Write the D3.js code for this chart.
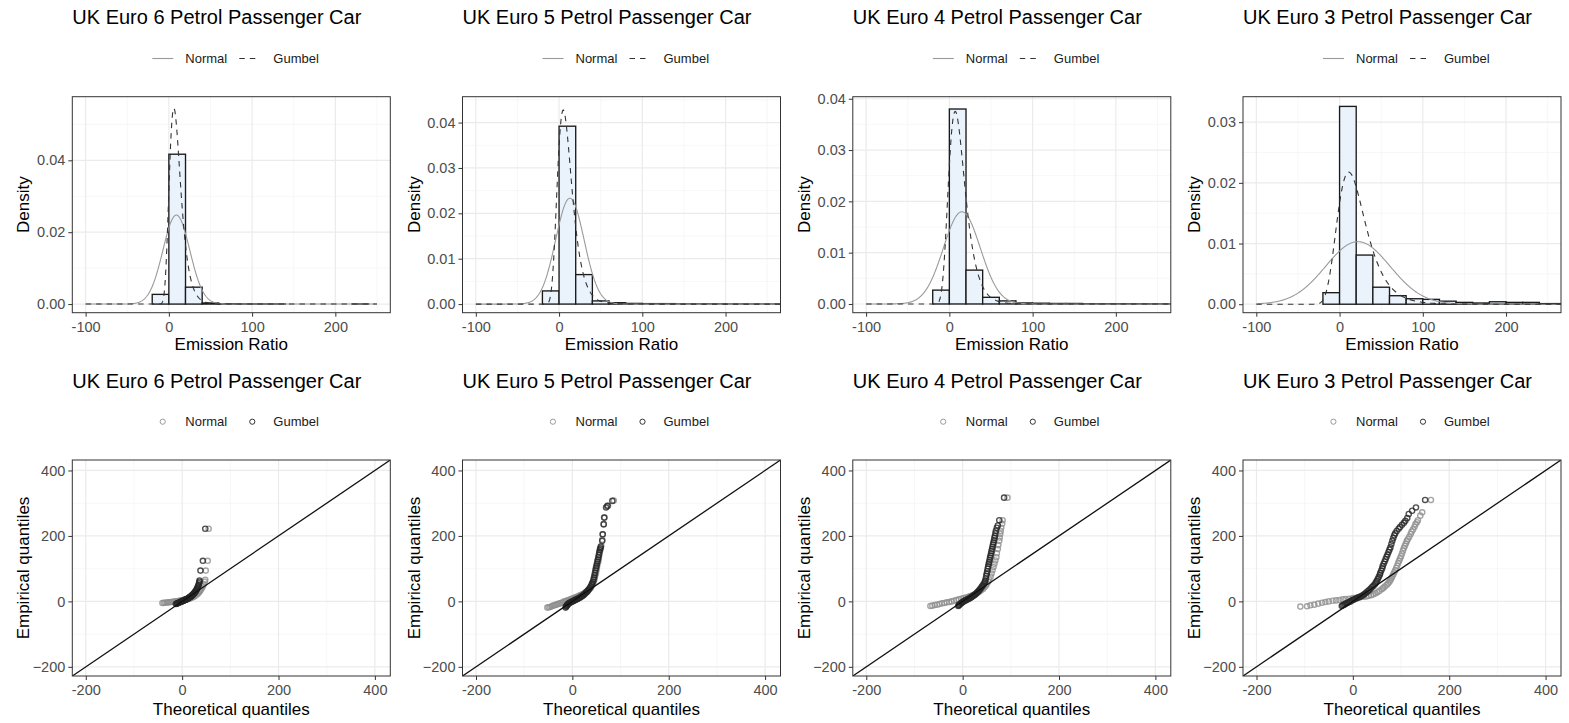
<!DOCTYPE html>
<html>
<head>
<meta charset="utf-8">
<script src="https://cdn.jsdelivr.net/npm/d3@7"></script>
<style>
  body { margin: 0; background: #fff; }
  svg { display: block; }
  text { font-family: "Liberation Sans", Arial, sans-serif; }
</style>
</head>
<body>
<svg id="chart" width="1569" height="723"></svg>
<script>
// ---- data -------------------------------------------------------------
const titles = [
  "UK Euro 6 Petrol Passenger Car",
  "UK Euro 5 Petrol Passenger Car",
  "UK Euro 4 Petrol Passenger Car",
  "UK Euro 3 Petrol Passenger Car"
];
const seriesNames = ["Normal", "Gumbel"];

// histogram bins (width 20) and densities
const binWidth = 20;
const binStarts = [-20, 0, 20, 40, 60, 80, 100, 120, 140, 160, 180, 200, 220, 240, 260, 280, 300];
const densEuro6 = [0.0027, 0.0417, 0.0047, 0.0003, 0.0001, 0.00005, 0.00005, 0.00005, 0, 0, 0, 0, 0.00005];
const densEuro5 = [0.0029, 0.0392, 0.0065, 0.0007, 0.0003, 0.00015, 0.0001, 0.0001, 0.00005, 0.00005, 0.00005, 0.00003, 0.00002, 0.00002, 0.00002, 0.00004, 0.00002];
const densEuro4 = [0.0027, 0.0380, 0.0066, 0.0013, 0.0006, 0.0002, 0.00015, 0.0001, 0.0001, 0.00005, 0.00005, 0.00005, 0.00004, 0.00003, 0.00002, 0, 0.00003];
const densEuro3 = [0.0019, 0.0326, 0.0081, 0.0028, 0.0014, 0.0009, 0.0008, 0.0005, 0.0003, 0.0002, 0.0004, 0.0003, 0.0003, 0.0001, 0.0001];

// fitted distribution parameters
const normalMean  = [9, 13, 15, 22];
const normalSd    = [16.1, 17.1, 22.2, 38.7];
const gumbelLoc   = [6, 5, 7, 11];
const gumbelScale = [6.75, 8.6, 9.8, 16.9];
const curveStart  = [-100, -100, -100, -100];
const curveEnd    = [250, 300, 300, 300];

// density axis ticks
const densTicks = [
  [0, 0.02, 0.04],
  [0, 0.01, 0.02, 0.03, 0.04],
  [0, 0.01, 0.02, 0.03, 0.04],
  [0, 0.01, 0.02, 0.03]
];
const densMinor = [
  [0.01, 0.03, 0.05],
  [0.005, 0.015, 0.025, 0.035, 0.045],
  [0.005, 0.015, 0.025, 0.035],
  [0.005, 0.015, 0.025]
];
const densDomain = [[-0.0024, 0.0577], [-0.0019, 0.0457], [-0.0017, 0.0404], [-0.0014, 0.0342]];
const ratioDomain = [-116, 266];
const ratioTicks = [-100, 0, 100, 200];
const ratioMinor = [-50, 50, 150, 250];

// Q-Q points: [theoretical, empirical]
const qqNormalEuro6 = [[-41,-5],[-38,-4.5],[-35,-4],[-32,-3.5],[-29,-3],[-26,-2.5],[-23,-2],[-20,-1.5],[-17,-1],[-14,0],[-11,0.5],[-8,1],[-5,2],[-2,3],[1,3.5],[4,4.5],[7,5.5],[10,6],[13,7.5],[16,9],[19,11],[22,13],[25,15],[28,18],[31,22],[33,25],[35,28],[37,32],[39,36],[41,41],[43,46],[45,52],[47,60],[48,66],[49,94],[53,124],[55,222]];
const qqGumbelEuro6 = [[-13,-8],[-11,-7],[-10,-6],[-8,-5],[-7,-4],[-5,-3],[-4,-2],[-2,-1],[-1,0],[0,0.5],[1,1],[2,2],[3,2.5],[4,3],[5,4],[6,4.5],[7,5],[8,6],[9,7],[10,7.5],[11,8],[12,9],[13,10],[14,11],[15,12],[16,13],[17,14],[18,15],[19,16],[20,18],[21,19],[22,20],[23,22],[24,24],[25,25],[26,27],[27,29],[28,31],[29,33],[30,36],[31,39],[32,42],[33,46],[34,50],[35,55],[36,60],[36,64],[38,94],[43,124],[48,222]];

const qqNormalEuro5 = [[-52,-19],[-49,-18],[-46,-17],[-43,-15],[-40,-13],[-37,-12],[-34,-10],[-31,-9],[-28,-7],[-25,-6],[-22,-4],[-19,-2],[-16,0],[-13,1],[-10,3],[-7,4],[-4,6],[-1,8],[2,10],[5,11],[8,13],[11,15],[14,17],[17,19],[20,21],[23,23],[26,26],[29,29],[32,33],[35,37],[38,42],[40,47],[42,53],[44,60],[46,68],[47,76],[49,85],[50,94],[51,103],[52,112],[54,122],[55,132],[56,142],[57,151],[59,160],[60,170],[62,188],[63,205],[65,235],[67,256],[72,290],[74,292],[86,308]];
const qqGumbelEuro5 = [[-14,-19],[-13,-16],[-12,-14],[-11,-12],[-10,-10],[-9,-8],[-7,-6],[-6,-5],[-4,-3],[-2,-2],[0,0],[2,1],[4,3],[6,4],[8,6],[10,7],[12,9],[14,10],[16,12],[18,14],[20,16],[22,18],[24,20],[26,23],[28,26],[30,29],[32,32],[34,36],[36,40],[38,45],[40,50],[41,55],[43,60],[44,67],[45,73],[46,80],[47,87],[48,95],[49,102],[50,108],[51,115],[52,122],[53,128],[54,135],[55,142],[56,150],[57,157],[58,162],[59,167],[62,185],[63,205],[65,236],[66,256],[70,287],[73,292],[83,307]];

const qqNormalEuro4 = [[-67,-14],[-63,-13],[-58,-11],[-53,-10],[-48,-8],[-43,-6],[-38,-5],[-33,-3],[-28,-2],[-23,0],[-18,2],[-13,4],[-8,6],[-3,8],[2,10],[7,12],[12,14],[16,16],[20,18],[24,21],[28,24],[32,27],[35,30],[38,34],[42,38],[45,43],[48,48],[50,53],[53,60],[55,67],[58,75],[60,85],[62,95],[64,105],[66,115],[68,125],[70,135],[71,147],[73,160],[74,172],[76,185],[77,195],[78,206],[79,215],[80,225],[82,237],[83,248],[93,317]];
const qqGumbelEuro4 = [[-9,-14],[-8,-12],[-7,-10],[-5,-8],[-3,-6],[-2,-4],[0,-2],[2,0],[4,2],[6,3],[8,5],[10,6],[12,8],[14,9],[16,11],[18,13],[20,15],[22,17],[24,19],[26,21],[28,24],[30,27],[32,30],[34,33],[36,37],[38,41],[40,45],[42,49],[44,54],[46,59],[47,63],[48,70],[49,78],[50,85],[51,92],[52,100],[53,107],[54,114],[55,120],[56,127],[57,134],[58,140],[59,147],[60,154],[61,160],[62,167],[63,174],[64,180],[65,187],[66,194],[67,200],[68,208],[69,216],[71,225],[73,232],[76,248],[86,317]];

const qqNormalEuro3 = [[-109,-16],[-95,-15],[-88,-12],[-80,-10],[-72,-7],[-64,-4],[-57,-2],[-50,0],[-42,2],[-35,3],[-28,4],[-21,6],[-15,7],[-8,8],[0,10],[7,11],[15,13],[22,14],[28,15],[33,17],[38,19],[43,22],[47,25],[51,28],[55,32],[60,37],[63,41],[66,45],[70,50],[73,55],[76,60],[78,65],[80,71],[82,77],[84,83],[86,89],[88,95],[90,102],[92,109],[94,117],[96,124],[98,131],[100,138],[102,146],[104,155],[106,163],[108,170],[110,177],[112,184],[114,190],[117,197],[120,206],[122,213],[125,220],[128,228],[130,236],[133,242],[135,248],[140,262],[144,272],[162,310]];
const qqGumbelEuro3 = [[-23,-14],[-21,-12],[-18,-10],[-16,-8],[-13,-6],[-11,-4],[-8,-2],[-5,0],[-2,3],[1,5],[4,7],[7,9],[10,11],[13,13],[16,15],[19,17],[22,20],[25,23],[28,27],[31,31],[34,35],[37,39],[40,44],[43,48],[46,53],[48,58],[50,63],[52,69],[54,75],[56,81],[57,87],[59,94],[61,101],[62,108],[64,115],[66,122],[68,129],[70,136],[72,143],[74,151],[76,158],[78,165],[80,175],[82,185],[84,194],[86,202],[88,208],[91,215],[95,222],[98,227],[102,234],[106,240],[109,246],[113,255],[116,267],[123,277],[131,287],[150,310]];

const qqDomain = [-228, 432];
const qqTicks = [-200, 0, 200, 400];
const qqMinor = [-100, 100, 300];

const densities = [densEuro6, densEuro5, densEuro4, densEuro3];
const qqNormal = [qqNormalEuro6, qqNormalEuro5, qqNormalEuro4, qqNormalEuro3];
const qqGumbel = [qqGumbelEuro6, qqGumbelEuro5, qqGumbelEuro4, qqGumbelEuro3];

// ---- layout & style ---------------------------------------------------
const colLeft = [72.3, 462.5, 852.8, 1243];
const panelW = 318, panelH = 216;
const topRow = { panelTop: 96.7, titleY: 24, legendY: 58.5, tickY: 332, axisTitleY: 350.5 };
const botRow = { panelTop: 460, titleY: 387.5, legendY: 421.7, tickY: 695, axisTitleY: 714.5 };

const COL = {
  gridMajor: "#ebebeb", gridMinor: "#f4f4f4", border: "#333333",
  tickText: "#4d4d4d", fill: "#eaf3fc", barStroke: "#1a1a1a",
  normal: "#9a9a9a", gumbel: "#333333",
  normalPt: "#8e8e8e", gumbelPt: "#262626"
};
const PT = { r: 2.6, width: 1.4, opacity: 0.8 };

const svg = d3.select("#chart");
const defs = svg.append("defs");

function normalPdf(x, m, s) {
  const z = (x - m) / s;
  return Math.exp(-0.5 * z * z) / (s * Math.sqrt(2 * Math.PI));
}
function gumbelPdf(x, mu, beta) {
  const z = (x - mu) / beta;
  return Math.exp(-(z + Math.exp(-z))) / beta;
}

function frame(g, x, y, xMajor, xMinor, yMajor, yMinor, id) {
  g.append("rect").attr("width", panelW).attr("height", panelH).attr("fill", "#fff");
  const grid = g.append("g");
  grid.selectAll(".vmin").data(xMinor).join("line")
    .attr("x1", d => x(d)).attr("x2", d => x(d)).attr("y1", 0).attr("y2", panelH)
    .attr("stroke", COL.gridMinor).attr("stroke-width", 0.7);
  grid.selectAll(".hmin").data(yMinor).join("line")
    .attr("y1", d => y(d)).attr("y2", d => y(d)).attr("x1", 0).attr("x2", panelW)
    .attr("stroke", COL.gridMinor).attr("stroke-width", 0.7);
  grid.selectAll(".vmaj").data(xMajor).join("line")
    .attr("x1", d => x(d)).attr("x2", d => x(d)).attr("y1", 0).attr("y2", panelH)
    .attr("stroke", COL.gridMajor).attr("stroke-width", 1.2);
  grid.selectAll(".hmaj").data(yMajor).join("line")
    .attr("y1", d => y(d)).attr("y2", d => y(d)).attr("x1", 0).attr("x2", panelW)
    .attr("stroke", COL.gridMajor).attr("stroke-width", 1.2);
  defs.append("clipPath").attr("id", id).append("rect")
    .attr("width", panelW).attr("height", panelH);
  return g.append("g").attr("clip-path", `url(#${id})`);
}

function axes(g, x, y, xMajor, yMajor, yFmt, row, xTitle, yTitle) {
  const top = row.panelTop;
  const xa = d3.axisBottom(x).tickValues(xMajor).tickSize(4).tickPadding(3).tickFormat(d3.format("d"));
  const ya = d3.axisLeft(y).tickValues(yMajor).tickSize(4).tickPadding(3).tickFormat(yFmt);
  const gx = g.append("g").attr("transform", `translate(0,${panelH})`).call(xa);
  const gy = g.append("g").call(ya);
  [gx, gy].forEach(a => {
    a.select(".domain").remove();
    a.selectAll(".tick line").attr("stroke", COL.border).attr("stroke-width", 1);
    a.selectAll(".tick text").attr("fill", COL.tickText).attr("font-size", 14.5)
      .attr("font-family", '"Liberation Sans", Arial, sans-serif');
  });
  gx.selectAll(".tick text").attr("dy", null).attr("y", row.tickY - top - panelH);
  gx.selectAll(".tick text").text(d => d < 0 ? "-" + Math.abs(d) : d);
  g.append("rect").attr("width", panelW).attr("height", panelH)
    .attr("fill", "none").attr("stroke", COL.border).attr("stroke-width", 1);
  g.append("text").attr("x", panelW / 2).attr("y", row.axisTitleY - top)
    .attr("text-anchor", "middle").attr("font-size", 17).attr("fill", "#000").text(xTitle);
  g.append("text").attr("transform", `translate(-43,${panelH / 2}) rotate(-90)`)
    .attr("text-anchor", "middle").attr("font-size", 17).attr("fill", "#000").text(yTitle);
}

function titleAndLegend(i, row, kind) {
  const L = colLeft[i];
  svg.append("text").attr("x", L).attr("y", row.titleY)
    .attr("font-size", 20).attr("fill", "#000").text(titles[i]);
  const lg = svg.append("g").attr("transform", `translate(${L},${row.legendY})`);
  if (kind === "line") {
    lg.append("line").attr("x1", 80).attr("x2", 101).attr("y1", 0).attr("y2", 0)
      .attr("stroke", COL.normal).attr("stroke-width", 1.1);
    lg.append("line").attr("x1", 167).attr("x2", 188).attr("y1", 0).attr("y2", 0)
      .attr("stroke", COL.gumbel).attr("stroke-width", 1.1).attr("stroke-dasharray", "5.5,5");
  } else {
    lg.append("circle").attr("cx", 90.4).attr("cy", 0).attr("r", 2.6)
      .attr("fill", "none").attr("stroke", COL.normal).attr("stroke-width", 1);
    lg.append("circle").attr("cx", 180).attr("cy", 0).attr("r", 2.6)
      .attr("fill", "none").attr("stroke", COL.gumbel).attr("stroke-width", 1);
  }
  lg.selectAll("text.lab").data(seriesNames).join("text")
    .attr("x", (d, k) => k === 0 ? 113 : 201).attr("y", 4.6)
    .attr("font-size", 13).attr("fill", "#1a1a1a").text(d => d);
}

// ---- top row: histograms with fitted densities --------------------------
for (let i = 0; i < 4; i++) {
  const g = svg.append("g").attr("transform", `translate(${colLeft[i]},${topRow.panelTop})`);
  const x = d3.scaleLinear().domain(ratioDomain).range([0, panelW]);
  const y = d3.scaleLinear().domain(densDomain[i]).range([panelH, 0]);
  const inner = frame(g, x, y, ratioTicks, ratioMinor, densTicks[i], densMinor[i], "clipTop" + i);

  const bins = densities[i].map((d, k) => ({ x0: binStarts[k], x1: binStarts[k] + binWidth, d }));
  inner.selectAll("rect.bar").data(bins).join("rect")
    .attr("x", b => x(b.x0)).attr("width", b => x(b.x1) - x(b.x0))
    .attr("y", b => y(b.d)).attr("height", b => y(0) - y(b.d))
    .attr("fill", COL.fill).attr("stroke", COL.barStroke).attr("stroke-width", 1.35);

  const xs = d3.range(curveStart[i], curveEnd[i] + 0.01, 0.5);
  const line = d3.line().x(d => x(d[0])).y(d => y(d[1]));
  inner.append("path").datum(xs.map(v => [v, normalPdf(v, normalMean[i], normalSd[i])]))
    .attr("d", line).attr("fill", "none").attr("stroke", COL.normal).attr("stroke-width", 1.1);
  inner.append("path").datum(xs.map(v => [v, gumbelPdf(v, gumbelLoc[i], gumbelScale[i])]))
    .attr("d", line).attr("fill", "none").attr("stroke", COL.gumbel).attr("stroke-width", 1.1)
    .attr("stroke-dasharray", "5.5,5");

  axes(g, x, y, ratioTicks, densTicks[i], d3.format(".2f"), topRow, "Emission Ratio", "Density");
  titleAndLegend(i, topRow, "line");
}

// ---- bottom row: Q-Q plots ------------------------------------------------
for (let i = 0; i < 4; i++) {
  const g = svg.append("g").attr("transform", `translate(${colLeft[i]},${botRow.panelTop})`);
  const x = d3.scaleLinear().domain(qqDomain).range([0, panelW]);
  const y = d3.scaleLinear().domain(qqDomain).range([panelH, 0]);
  const inner = frame(g, x, y, qqTicks, qqMinor, qqTicks, qqMinor, "clipBot" + i);

  inner.selectAll("circle.n").data(qqNormal[i]).join("circle")
    .attr("cx", d => x(d[0])).attr("cy", d => y(d[1])).attr("r", PT.r)
    .attr("fill", "none").attr("stroke", COL.normalPt).attr("stroke-opacity", PT.opacity)
    .attr("stroke-width", PT.width);
  inner.selectAll("circle.g").data(qqGumbel[i]).join("circle")
    .attr("cx", d => x(d[0])).attr("cy", d => y(d[1])).attr("r", PT.r)
    .attr("fill", "none").attr("stroke", COL.gumbelPt).attr("stroke-opacity", PT.opacity)
    .attr("stroke-width", PT.width);

  inner.append("line")
    .attr("x1", x(qqDomain[0])).attr("y1", y(qqDomain[0]))
    .attr("x2", x(qqDomain[1])).attr("y2", y(qqDomain[1]))
    .attr("stroke", "#111").attr("stroke-width", 1.3);

  axes(g, x, y, qqTicks, qqTicks, d3.format("d"), botRow, "Theoretical quantiles", "Empirical quantiles");
  titleAndLegend(i, botRow, "point");
}
</script>
</body>
</html>
